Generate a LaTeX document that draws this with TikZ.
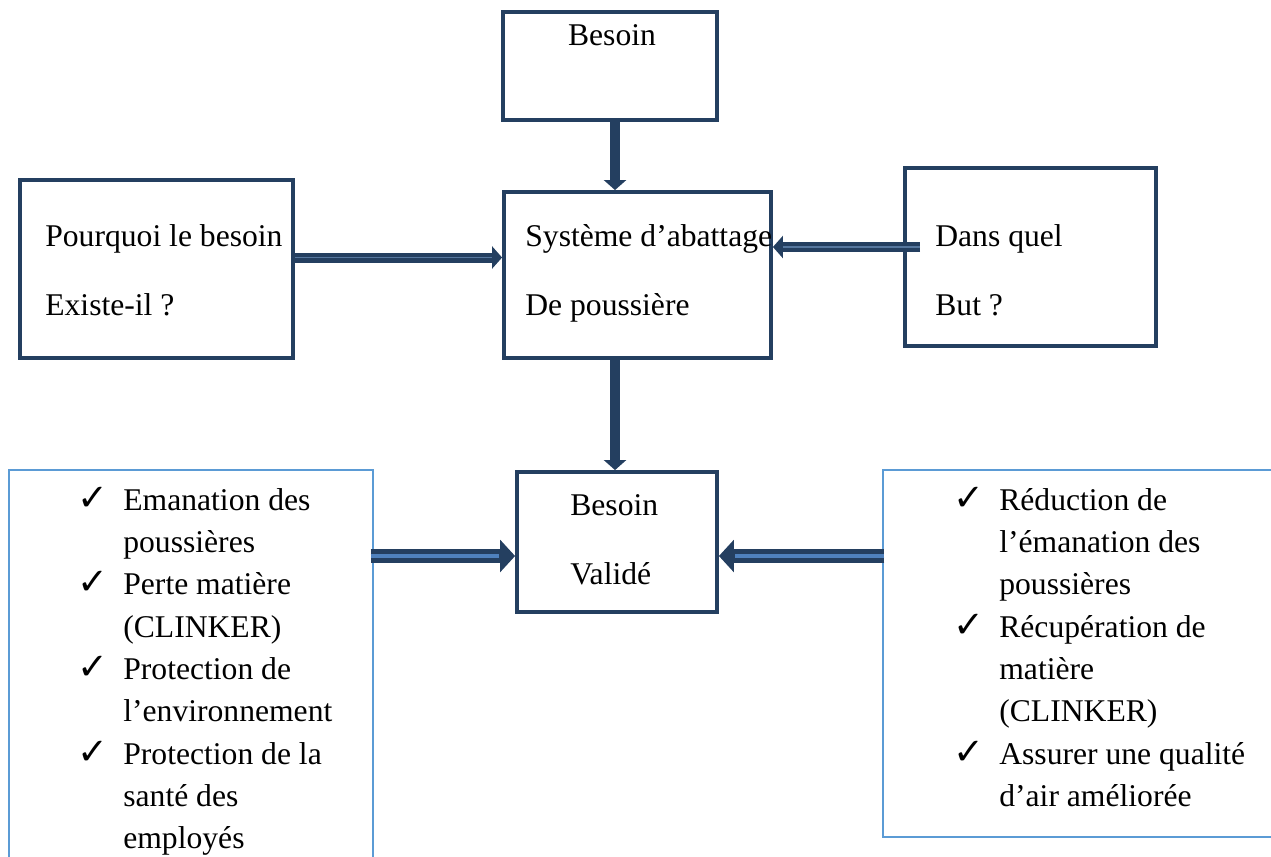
\documentclass[tikz,border=0pt]{standalone}
\usepackage{fontspec}
\setmainfont{Liberation Serif}
\newfontfamily\symfont{DejaVu Sans}
\usetikzlibrary{arrows.meta,positioning}

\definecolor{navy}{HTML}{243F60}
\definecolor{stripeblue}{HTML}{4F81BD}
\definecolor{paleline}{HTML}{56779E}
\definecolor{listline}{HTML}{5B9BD5}

\newcommand\chk{\makebox[0.92cm][l]{\smash{\symfont\fontsize{21}{21}\selectfont ✓}}}
\newcommand\ind{\hspace*{0.92cm}}

\begin{document}
\begin{tikzpicture}[x=0.02cm, y=-0.02cm,
  box/.style={draw=navy, line width=2.2pt, inner sep=0pt},
  listbox/.style={draw=listline, line width=0.8pt, inner sep=0pt},
  txt/.style={inner sep=0pt, font=\fontsize{18}{24.07}\selectfont},
  fat/.style={draw=navy, line width=5.7pt, -{Triangle[width=12.5pt,length=5.7pt]}},
  fatter/.style={draw=navy, line width=8.5pt, -{Triangle[width=18pt,length=8.5pt]}},
  thinstripe/.style={draw=paleline, line width=0.8pt, shorten >=6pt},
  stripe/.style={draw=stripeblue, line width=2.4pt, shorten >=9pt}]

\useasboundingbox (0,0) rectangle (1271,856);
\clip (0,0) rectangle (1271,856);

% boxes
\node[box, minimum width=4.28cm, minimum height=2.16cm] (need) at (610,66) {};
\node[box, minimum width=5.46cm, minimum height=3.56cm] (why) at (156.5,269) {};
\node[box, minimum width=5.34cm, minimum height=3.32cm] (sys) at (637.5,275) {};
\node[box, minimum width=5.02cm, minimum height=3.56cm] (goal) at (1030.5,257) {};
\node[box, minimum width=4cm, minimum height=2.8cm] (valid) at (617,542) {};
\node[listbox, minimum width=7.28cm, minimum height=8.6cm] (whybox) at (191,685) {};
\node[listbox, minimum width=8.14cm, minimum height=7.34cm] (goalbox) at (1086.5,653.5) {};

% box texts
\node[txt, anchor=base] (needtxt) at (612,45) {Besoin};
\node[txt, anchor=base west] (why1) at (45,246) {Pourquoi le besoin};
\node[txt, anchor=base west] (why2) at (45,315) {Existe-il ?};
\node[txt, anchor=base west] (sys1) at (525,246) {Système d’abattage};
\node[txt, anchor=base west] (sys2) at (525,315) {De poussière};
\node[txt, anchor=base west] (goal1) at (935,246) {Dans quel};
\node[txt, anchor=base west] (goal2) at (935,315) {But ?};
\node[txt, anchor=base west] (valid1) at (570,515) {Besoin};
\node[txt, anchor=base west] (valid2) at (570,584) {Validé};

% lists
\node[txt, anchor=north west, align=left] (whylist) at (77,488)
  {\chk Emanation des\\\ind poussières\\\chk Perte matière\\\ind (CLINKER)\\%
   \chk Protection de\\\ind l’environnement\\\chk Protection de la\\%
   \ind santé des\\\ind employés};
\node[txt, anchor=north west, align=left] (goallist) at (953,488)
  {\chk Réduction de\\\ind l’émanation des\\\ind poussières\\%
   \chk Récupération de\\\ind matière\\\ind (CLINKER)\\%
   \chk Assurer une qualité\\\ind d’air améliorée};

% arrows
\coordinate (a1) at ([xshift=0.1cm]need.south);
\draw[fat] (a1) -- (a1 |- sys.north);
\coordinate (a2) at ([yshift=0.23cm]why.east);
\draw[fat] (a2) -- (a2 -| sys.west);
\draw[thinstripe] (a2) -- (a2 -| sys.west);
\coordinate (a3) at ([xshift=0.34cm,yshift=0.2cm]goal.west);
\draw[fat] (a3) -- (a3 -| sys.east);
\draw[thinstripe] (a3) -- (a3 -| sys.east);
\coordinate (a4) at ([xshift=-0.45cm]sys.south);
\draw[fat] (a4) -- (a4 |- valid.north);
\coordinate (a5) at ([xshift=-0.06cm,yshift=-0.28cm]whybox.east |- valid.west);
\draw[fatter] (a5) -- (a5 -| valid.west);
\draw[stripe] (a5) -- (a5 -| valid.west);
\coordinate (a6) at ([xshift=0.04cm,yshift=-0.28cm]goalbox.west |- valid.east);
\draw[fatter] (a6) -- (a6 -| valid.east);
\draw[stripe] (a6) -- (a6 -| valid.east);

\end{tikzpicture}
\end{document}
